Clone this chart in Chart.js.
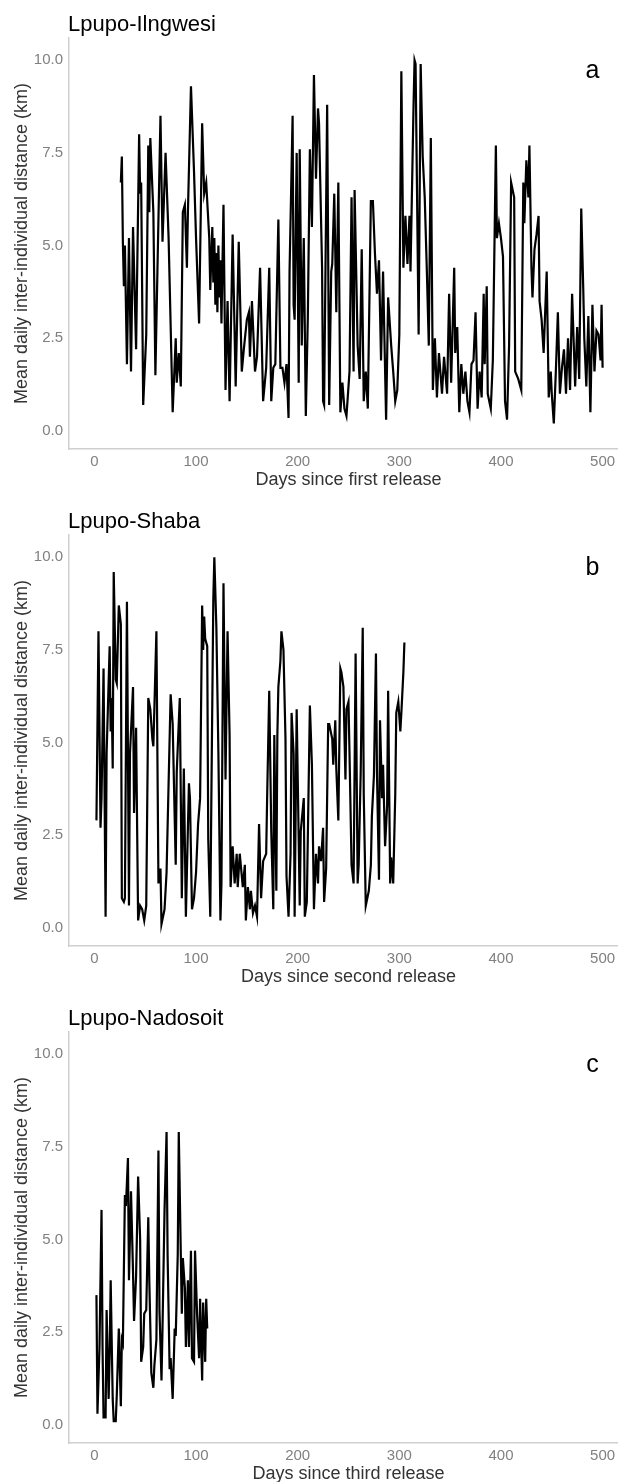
<!DOCTYPE html>
<html>
<head>
<meta charset="utf-8">
<script src="https://cdn.jsdelivr.net/npm/chart.js@4.4.1/dist/chart.umd.min.js"></script>
<style>
  html, body { margin: 0; padding: 0; width: 618px; height: 1482px; overflow: hidden; background: #fff; }
  .panel { position: absolute; left: 0; width: 630px; height: 497px; }
</style>
</head>
<body>
<div class="panel" style="top:0"><canvas id="panelA" width="630" height="497"></canvas></div>
<div class="panel" style="top:497px"><canvas id="panelB" width="630" height="497"></canvas></div>
<div class="panel" style="top:994px"><canvas id="panelC" width="630" height="497"></canvas></div>
<script>
const FONT = '"Liberation Sans", Arial, sans-serif';

const xTicks = [0, 100, 200, 300, 400, 500];
const yTicks = [0, 2.5, 5, 7.5, 10];

const panelTitles = ['Lpupo-Ilngwesi', 'Lpupo-Shaba', 'Lpupo-Nadosoit'];
const panelLetters = ['a', 'b', 'c'];
const xTitles = ['Days since first release', 'Days since second release', 'Days since third release'];
const yTitle = 'Mean daily inter-individual distance (km)';

// first release (Ilngwesi)
const daysA = [26, 27, 28, 29, 30, 32, 34, 36, 38, 41, 44, 45, 46, 48, 51, 53, 54, 55, 58, 60,
  65, 67, 70, 73, 77, 80, 81, 83, 85, 87, 89, 91, 92, 95, 98, 100, 103, 106, 108, 110,
  113, 114, 116, 117, 118, 119, 120, 121, 122, 123, 124, 125, 127, 129, 131, 133, 136, 139, 142, 145,
  147, 150, 152, 153, 155, 158, 160, 163, 166, 169, 172, 174, 176, 178, 181, 183, 185, 187, 189, 191,
  192, 195, 196, 197, 199, 201, 202, 204, 206, 208, 210, 212, 214, 216, 218, 220, 221, 224, 225, 226,
  229, 231, 233, 234, 236, 238, 240, 242, 244, 246, 248, 251, 253, 255, 256, 259, 261, 263, 265, 267,
  269, 272, 274, 276, 278, 280, 282, 284, 287, 289, 292, 294, 296, 298, 300, 302, 304, 306, 308, 310,
  311, 314, 315, 316, 319, 321, 323, 325, 327, 329, 331, 333, 335, 337, 339, 342, 344, 347, 349, 351,
  354, 355, 357, 359, 361, 363, 365, 367, 369, 371, 373, 375, 377, 379, 381, 383, 384, 386, 387, 390,
  392, 395, 396, 398, 400, 402, 404, 406, 408, 410, 413, 414, 417, 420, 422, 423, 425, 427, 428, 430,
  431, 433, 435, 437, 438, 440, 442, 445, 447, 449, 450, 452, 454, 456, 458, 460, 462, 464, 466, 468,
  470, 473, 475, 477, 479, 481, 482, 484, 486, 488, 490, 492, 494, 496, 498, 499, 500];
const distA = [6.7, 7.4, 5.1, 3.9, 5.0, 1.8, 5.2, 1.6, 5.5, 2.2, 8.0, 6.4, 6.7, 0.7, 2.6, 7.7, 5.9, 7.9, 5.9, 1.5,
  8.5, 5.1, 7.5, 5.2, 0.5, 2.5, 1.3, 2.1, 1.2, 5.9, 6.1, 4.4, 5.9, 9.3, 7.0, 5.2, 2.9, 8.3, 6.4, 6.7,
  5.2, 3.8, 5.5, 4.0, 5.2, 3.4, 4.8, 3.2, 5.0, 3.6, 4.6, 2.9, 6.1, 1.1, 3.5, 0.8, 5.3, 1.2, 5.1, 1.6,
  2.2, 3.0, 3.2, 2.0, 3.5, 1.6, 2.0, 4.4, 0.8, 1.7, 4.4, 0.8, 1.7, 1.8, 5.7, 1.7, 1.7, 1.3, 1.8, 0.35,
  4.3, 8.5, 3.4, 3.0, 7.5, 1.3, 7.6, 2.3, 5.2, 0.4, 3.1, 7.6, 5.5, 9.6, 6.8, 8.7, 8.3, 4.4, 0.8, 0.7,
  8.8, 0.7, 4.3, 4.5, 6.4, 3.2, 6.7, 0.5, 1.3, 0.6, 0.4, 1.6, 6.3, 1.6, 6.5, 2.3, 1.4, 4.9, 0.8, 1.6,
  0.6, 6.2, 6.2, 4.8, 3.7, 4.6, 1.9, 4.3, 0.3, 3.6, 2.3, 1.6, 0.8, 1.1, 2.6, 9.7, 4.4, 5.8, 4.5, 5.8,
  4.3, 8.8, 10.0, 9.9, 2.6, 9.9, 7.4, 6.3, 4.4, 2.3, 7.9, 1.1, 2.5, 0.9, 2.1, 1.0, 2.0, 1.0, 3.7, 1.3,
  4.4, 2.1, 2.8, 0.5, 1.8, 1.0, 1.6, 0.8, 0.5, 1.8, 1.9, 3.2, 0.6, 1.6, 0.9, 3.7, 1.8, 3.9, 1.0, 0.6,
  1.9, 7.7, 5.2, 5.6, 5.2, 4.7, 0.8, 0.3, 2.3, 6.7, 6.3, 1.6, 1.4, 1.1, 6.7, 5.6, 7.3, 6.3, 7.7, 4.4,
  3.6, 4.9, 5.3, 5.8, 3.5, 3.0, 2.1, 4.3, 0.9, 1.6, 1.0, 0.2, 1.6, 3.2, 1.0, 1.7, 2.2, 1.0, 2.5, 1.1,
  3.7, 1.2, 2.8, 1.4, 6.0, 3.8, 2.5, 1.2, 3.1, 0.5, 3.4, 1.6, 2.7, 2.6, 1.9, 3.4, 1.7];

// second release (Shaba)
const daysB = [2, 4, 6, 7, 9, 11, 12, 15, 16, 17, 18, 19, 21, 22, 24, 26, 27, 29, 30, 32,
  34, 35, 38, 39, 41, 43, 45, 47, 49, 51, 53, 55, 57, 58, 61, 63, 65, 66, 69, 71,
  75, 77, 80, 81, 84, 86, 88, 90, 93, 94, 96, 98, 100, 102, 104, 106, 107, 108, 109, 111,
  112, 114, 115, 117, 118, 120, 122, 124, 125, 127, 129, 131, 133, 134, 136, 138, 140, 141, 143, 146,
  148, 149, 151, 153, 154, 156, 158, 160, 162, 164, 166, 169, 170, 172, 174, 176, 177, 179, 180, 181,
  183, 184, 186, 188, 189, 191, 193, 194, 196, 197, 199, 202, 203, 206, 207, 209, 212, 214, 216, 218,
  220, 221, 223, 225, 226, 228, 230, 231, 234, 235, 237, 238, 240, 242, 243, 245, 247, 248, 250, 251,
  253, 255, 257, 259, 260, 262, 264, 265, 267, 270, 272, 273, 275, 277, 278, 280, 281, 283, 284, 286,
  288, 289, 291, 292, 294, 296, 297, 299, 301, 302, 304, 305];
const distB = [2.9, 8.0, 2.7, 3.5, 7.0, 0.3, 4.7, 7.6, 5.3, 6.2, 4.3, 9.6, 6.7, 6.6, 8.7, 8.2, 0.8, 0.7, 0.8, 8.8,
  0.6, 4.7, 6.5, 3.1, 5.4, 0.2, 0.6, 0.5, 0.2, 0.6, 6.2, 5.9, 5.1, 4.9, 8.0, 1.2, 1.6, 0.1, 0.5, 1.5,
  6.3, 5.5, 1.7, 4.2, 6.2, 0.8, 4.3, 0.3, 3.9, 3.5, 0.5, 0.8, 1.5, 2.8, 3.5, 8.7, 7.5, 8.4, 7.8, 7.6,
  2.4, 0.3, 3.3, 8.9, 10.0, 8.1, 4.7, 0.2, 1.2, 9.3, 4.0, 8.0, 5.2, 1.1, 2.2, 1.2, 2.0, 1.1, 2.0, 1.1,
  1.7, 0.2, 1.1, 0.5, 1.0, 0.4, 0.6, 0.3, 2.8, 0.8, 1.8, 2.0, 3.6, 6.4, 2.6, 0.5, 5.2, 1.0, 5.2, 6.5,
  7.2, 8.0, 7.5, 5.1, 1.4, 0.3, 2.0, 5.8, 4.7, 0.3, 5.9, 0.6, 2.6, 3.5, 0.3, 0.7, 6.0, 4.4, 0.5, 2.0,
  1.2, 2.2, 1.8, 2.7, 0.7, 1.6, 5.5, 5.5, 5.1, 4.4, 5.6, 4.3, 2.9, 7.0, 6.9, 6.5, 4.0, 5.9, 6.1, 4.7,
  1.7, 1.2, 7.4, 1.2, 1.7, 4.2, 8.1, 3.6, 0.6, 1.0, 1.7, 3.0, 4.1, 7.4, 4.2, 1.3, 5.6, 3.5, 4.4, 2.2,
  3.3, 6.4, 1.2, 1.9, 1.2, 3.6, 5.8, 6.1, 5.3, 5.8, 6.9, 7.7];

// third release (Nadosoit)
const daysC = [2, 3, 5, 7, 8, 9, 11, 12, 14, 15, 16, 18, 19, 21, 22, 24, 26, 27, 28, 30,
  31, 33, 34, 36, 38, 39, 41, 43, 45, 46, 48, 49, 51, 53, 54, 56, 58, 59, 61, 63,
  64, 66, 67, 69, 71, 72, 74, 75, 77, 79, 80, 82, 83, 85, 86, 87, 89, 90, 92, 93,
  95, 96, 98, 99, 101, 103, 104, 106, 107, 109, 110, 111];
const distC = [3.5, 0.3, 2.1, 5.8, 2.1, 0.2, 0.2, 3.1, 0.7, 1.9, 3.9, 0.7, 0.1, 0.1, 0.8, 2.6, 0.5, 2.3, 2.2, 6.2,
  5.9, 7.2, 3.9, 6.3, 4.1, 2.8, 4.0, 6.7, 5.0, 1.7, 2.1, 3.0, 3.1, 5.6, 3.9, 1.4, 1.0, 1.6, 2.3, 7.4,
  3.1, 1.2, 2.6, 5.8, 7.9, 4.6, 1.5, 1.8, 0.7, 2.6, 2.4, 4.6, 7.9, 4.6, 3.0, 4.5, 3.7, 2.1, 3.9, 2.1,
  4.7, 1.8, 1.7, 4.7, 3.0, 1.8, 3.4, 1.2, 3.3, 1.7, 3.4, 2.6];

// panel title top-left, panel letter inside the plot near the top right
const panelText = {
  id: 'panelText',
  afterDraw(chart, args, opts) {
    const {ctx, scales: {x, y}} = chart;
    ctx.save();
    ctx.fillStyle = '#000';
    ctx.textBaseline = 'middle';
    ctx.textAlign = 'left';
    ctx.font = '22px ' + FONT;
    ctx.fillText(opts.title, 68, 25);
    ctx.textAlign = 'center';
    ctx.font = '25px ' + FONT;
    ctx.fillText(opts.letter, x.getPixelForValue(opts.letterX), y.getPixelForValue(opts.letterY));
    ctx.restore();
  }
};

function makePanel(canvasId, days, dist, idx) {
  const points = days.map((d, i) => ({x: d, y: dist[i]}));
  return new Chart(document.getElementById(canvasId), {
    type: 'line',
    data: {
      datasets: [{
        data: points,
        borderColor: '#000',
        borderWidth: 2.2,
        pointRadius: 0,
        tension: 0,
        fill: false
      }]
    },
    options: {
      responsive: false,
      animation: false,
      layout: {padding: {top: 38, left: 0, right: 2, bottom: 6}},
      scales: {
        x: {
          type: 'linear',
          min: -25,
          max: 525,
          afterBuildTicks: (scale) => { scale.ticks = xTicks.map(v => ({value: v})); },
          afterFit: (scale) => { scale.height = 42; },
          grid: {display: false, drawTicks: false},
          border: {display: true, color: '#cfcfcf', width: 1.5},
          ticks: {color: '#808080', font: {family: FONT, size: 15}, padding: 4, maxRotation: 0},
          title: {display: true, text: xTitles[idx], color: '#333', font: {family: FONT, size: 18}, padding: {top: 0, bottom: 0}}
        },
        y: {
          min: -0.49,
          max: 10.6,
          afterBuildTicks: (scale) => { scale.ticks = yTicks.map(v => ({value: v})); },
          afterFit: (scale) => { scale.width = 69; },
          grid: {display: false, drawTicks: false},
          border: {display: true, color: '#cfcfcf', width: 1.5},
          ticks: {color: '#808080', font: {family: FONT, size: 15}, padding: 6, callback: (v) => v.toFixed(1)},
          title: {display: true, text: yTitle, color: '#333', font: {family: FONT, size: 18}, padding: {top: 11, bottom: 0}}
        }
      },
      plugins: {
        legend: {display: false},
        tooltip: {enabled: false},
        panelText: {title: panelTitles[idx], letter: panelLetters[idx], letterX: 490, letterY: 9.7}
      }
    },
    plugins: [panelText]
  });
}

makePanel('panelA', daysA, distA, 0);
makePanel('panelB', daysB, distB, 1);
makePanel('panelC', daysC, distC, 2);
</script>
</body>
</html>
